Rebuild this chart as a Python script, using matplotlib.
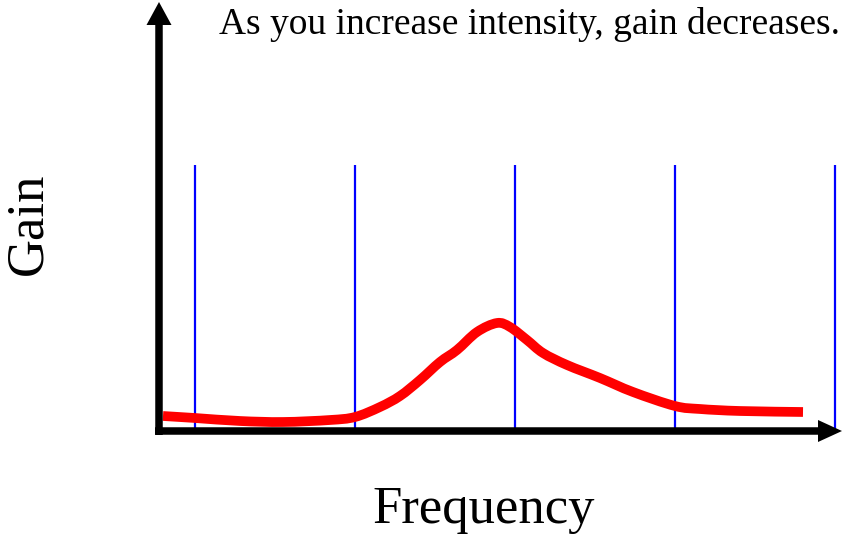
import numpy as np
from matplotlib import pyplot as plt
from matplotlib.path import Path
from matplotlib.patches import PathPatch

# blue reference lines (frequency positions) and their height
band_x = [36, 196, 356, 516, 676]
band_top = 266

# red gain curve
freq = [4, 36, 81, 124, 171, 196, 221, 241, 261, 281, 298, 318, 338, 351, 368, 384, 408, 441, 474, 516, 541, 581, 644]
gain = [15, 13, 10, 9, 11, 14, 24, 35, 51, 69, 81, 99, 108, 104, 91, 78, 66, 53, 39, 25, 22, 20, 19]

title = "As you increase intensity, gain decreases."
xlabel = "Frequency"
ylabel = "Gain"

W, H = 845, 535
fig = plt.figure(figsize=(W / 100, H / 100), dpi=100)
# one data unit = one pixel, origin at the axes corner
ax = fig.add_axes([159 / W, (H - 431) / H, 683 / W, 429 / H])
ax.set_xlim(0, 683)
ax.set_ylim(0, 429)
ax.axis("off")

ax.vlines(band_x, 0, band_top, colors="#0000ff", linewidth=1.6, clip_on=False)

# smooth curve through the read points (catmull-rom drawn as bezier segments)
pts = np.column_stack([freq, gain]).astype(float)
verts = [pts[0]]
codes = [Path.MOVETO]
for i in range(len(pts) - 1):
    p0 = pts[max(i - 1, 0)]
    p1, p2 = pts[i], pts[i + 1]
    p3 = pts[min(i + 2, len(pts) - 1)]
    verts += [p1 + (p2 - p0) / 6, p2 - (p3 - p1) / 6, p2]
    codes += [Path.CURVE4] * 3
ax.add_patch(PathPatch(Path(verts, codes), facecolor="none", edgecolor="#ff0000",
                       linewidth=7, capstyle="butt", joinstyle="round",
                       clip_on=False, zorder=3))

# axes arrows
ax.arrow(0, -4, 0, 433, width=7.5, head_width=25, head_length=23,
         length_includes_head=True, color="black", linewidth=0, clip_on=False, zorder=4)
ax.arrow(-4, 0, 687, 0, width=7.5, head_width=22, head_length=24,
         length_includes_head=True, color="black", linewidth=0, clip_on=False, zorder=4)

serif = ["Liberation Serif", "DejaVu Serif"]
fig.text(530 / W, 1 - 25 / H, title, family=serif, fontsize=27, ha="center", va="center")
fig.text(484 / W, 1 - 510 / H, xlabel, family=serif, fontsize=38, ha="center", va="center")
fig.text(28 / W, 1 - 224 / H, ylabel, family=serif, fontsize=38, ha="center", va="center",
         rotation=90)

fig.savefig("out.png", dpi=100)
